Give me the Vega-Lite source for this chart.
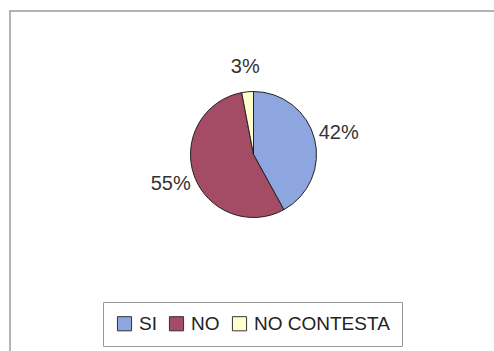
{
  "$schema": "https://vega.github.io/schema/vega-lite/v6.json",
  "width": 484,
  "height": 340,
  "autosize": "none",
  "padding": {"left": 10, "top": 11, "right": 0, "bottom": 0},
  "background": "white",
  "view": {"stroke": "#9a9a9a", "strokeWidth": 1.5, "fill": "white", "strokeDash": [484, 824, 340, 10]},
  "config": {
    "font": "Liberation Sans"
  },
  "data": {
    "values": [
      {"respuesta": "SI", "pct": 0.42, "orden": 1},
      {"respuesta": "NO", "pct": 0.55, "orden": 2},
      {"respuesta": "NO CONTESTA", "pct": 0.03, "orden": 3}
    ]
  },
  "encoding": {
    "theta": {"field": "pct", "type": "quantitative", "stack": true},
    "order": {"field": "orden", "type": "quantitative"}
  },
  "layer": [
    {
      "mark": {"type": "arc", "outerRadius": 63, "stroke": "#222222", "strokeWidth": 1, "xOffset": 1.5, "yOffset": -26.5},
      "encoding": {
        "color": {
          "field": "respuesta",
          "type": "nominal",
          "sort": ["SI", "NO", "NO CONTESTA"],
          "scale": {"domain": ["SI", "NO", "NO CONTESTA"], "range": ["#8ea6e0", "#a44c66", "#ffffcc"]},
          "legend": {
            "title": null,
            "orient": "none",
            "legendX": 93,
            "legendY": 291,
            "direction": "horizontal",
            "columns": 3,
            "symbolType": "square",
            "symbolSize": 200,
            "symbolStrokeColor": "#333333",
            "symbolStrokeWidth": 1,
            "labelFontSize": 19,
            "labelFont": "Liberation Sans",
            "labelColor": "#222222",
            "labelOffset": 5,
            "columnPadding": 10,
            "padding": 12,
            "strokeColor": "#999999",
            "fillColor": "white",
            "labelLimit": 300
          }
        }
      }
    },
    {
      "mark": {"type": "text", "radius": 88, "xOffset": 1.5, "yOffset": -26.5, "fontSize": 20, "font": "Liberation Sans", "color": "#333333"},
      "encoding": {
        "text": {"field": "pct", "type": "quantitative", "format": ".0%"}
      }
    }
  ]
}
